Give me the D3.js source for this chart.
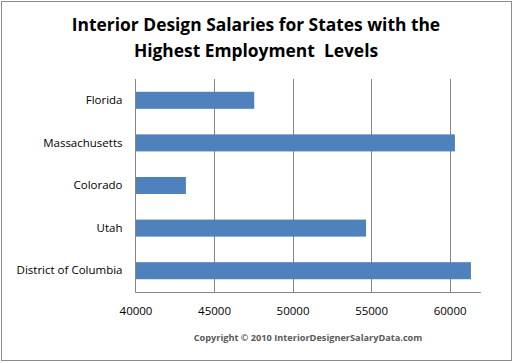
<!DOCTYPE html>
<html><head><meta charset="utf-8">
<script src="https://cdn.jsdelivr.net/npm/d3@7"></script>
<style>body{margin:0;background:#fff}svg{display:block}</style>
</head><body>
<script>
const categories = ["Florida","Massachusetts","Colorado","Utah","District of Columbia"];
const salaries = [47560, 60340, 43210, 54680, 61360];
const tickValues = [40000, 45000, 50000, 55000, 60000];
const titleLines = ["Interior Design Salaries for States with the", "Highest Employment  Levels"];
const credit = "Copyright \u00A9 2010 InteriorDesignerSalaryData.com";

(function(){
const W = 514, H = 363;
const svg = d3.select("body").append("svg").attr("width", W).attr("height", H);
svg.append("rect").attr("x",1.5).attr("y",1.5).attr("width",510).attr("height",359)
  .attr("fill","#fff").attr("stroke","#8c8c8c").attr("stroke-width",1);

const pl = 135.5, pr = 481, pt = 79, pb = 292;
const x = d3.scaleLinear().domain([40000, 62000]).range([pl, pr]);
const y = d3.scaleBand().domain(categories).range([pt, pb]).paddingInner(0.6).paddingOuter(0.3);

svg.append("g").selectAll("line").data(tickValues.slice(1)).join("line")
  .attr("x1", d => Math.round(x(d))+0.5).attr("x2", d => Math.round(x(d))+0.5)
  .attr("y1", pt).attr("y2", pb).attr("stroke","#868686").attr("stroke-width",1);

svg.append("g").selectAll("rect").data(categories).join("rect")
  .attr("x", pl).attr("y", d => y(d))
  .attr("width", (d,i) => x(salaries[i]) - pl).attr("height", y.bandwidth())
  .attr("fill","#4f81bd");

svg.append("line").attr("x1",pl).attr("x2",pl).attr("y1",pt).attr("y2",pb+0.5).attr("stroke","#868686");
svg.append("line").attr("x1",pl).attr("x2",pr).attr("y1",pb+0.5).attr("y2",pb+0.5).attr("stroke","#868686");

const yAxis = d3.axisLeft(y).tickSize(0).tickPadding(13);
const ya = svg.append("g").attr("transform",`translate(${pl},0)`).call(yAxis);
ya.select(".domain").remove();
ya.selectAll("text").attr("font-family","'Open Sans', sans-serif").attr("font-size",11.5).attr("fill","#000");

const xAxis = d3.axisBottom(x).tickValues(tickValues).tickSize(0).tickPadding(15).tickFormat(d3.format("d"));
const xa = svg.append("g").attr("transform",`translate(0,${pb})`).call(xAxis);
xa.select(".domain").remove();
xa.selectAll("text").attr("font-family","'Open Sans', sans-serif").attr("font-size",11.5).attr("fill","#000");

svg.append("g").selectAll("text").data(titleLines).join("text")
  .attr("x", 256).attr("y", (d,i) => 31 + i*26)
  .attr("text-anchor","middle").attr("font-family","'Open Sans', sans-serif")
  .attr("font-weight","bold").attr("font-size",17.4).attr("fill","#000")
  .style("white-space","pre")
  .text(d => d);

svg.append("text").attr("x",308).attr("y",341).attr("text-anchor","middle")
  .attr("font-family","'Open Sans', sans-serif").attr("font-weight","bold")
  .attr("font-size",9.2).attr("fill","#595959").text(credit);
})();
</script>
</body></html>
